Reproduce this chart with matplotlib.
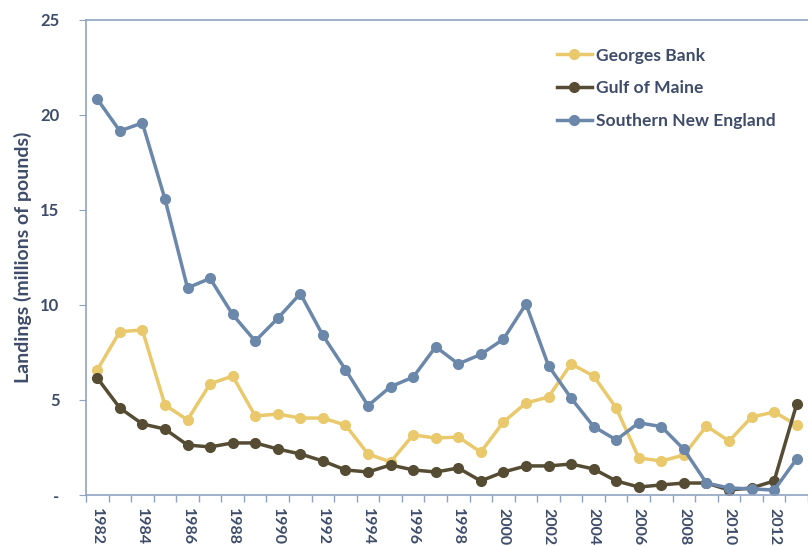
import matplotlib
matplotlib.use("Agg")
import matplotlib.pyplot as plt
import numpy as np

years = list(range(1982, 2014))
georges_bank = [6.58, 8.6, 8.68, 4.74, 3.95, 5.85, 6.26, 4.16, 4.26, 4.05, 4.05, 3.68,
                2.16, 1.74, 3.16, 3.0, 3.05, 2.26, 3.84, 4.84, 5.16, 6.9, 6.26, 4.58,
                1.95, 1.79, 2.1, 3.63, 2.84, 4.1, 4.37, 3.68]
gulf_of_maine = [6.16, 4.58, 3.74, 3.47, 2.63, 2.53, 2.74, 2.74, 2.42, 2.16, 1.79, 1.32,
                 1.21, 1.58, 1.32, 1.21, 1.42, 0.74, 1.21, 1.53, 1.53, 1.63, 1.37, 0.74,
                 0.42, 0.53, 0.63, 0.63, 0.26, 0.37, 0.74, 4.79]
southern_new_england = [20.84, 19.16, 19.58, 15.58, 10.9, 11.4, 9.5, 8.1, 9.3, 10.6, 8.4, 6.6,
                        4.7, 5.7, 6.2, 7.8, 6.9, 7.4, 8.2, 10.05, 6.8, 5.1, 3.6, 2.9,
                        3.8, 3.6, 2.4, 0.63, 0.37, 0.32, 0.26, 1.9]
y_ticks = [0, 5, 10, 15, 20, 25]
y_tick_labels = ["-", "5", "10", "15", "20", "25"]

text_color = "#3E4C6A"
spine_color = "#8FA3C0"
colors = {"Georges Bank": "#E9C96C",
          "Gulf of Maine": "#554C33",
          "Southern New England": "#6B87AA"}

plt.rcParams["font.family"] = ["Lato", "DejaVu Sans"]

fig = plt.figure(figsize=(8.08, 5.46), dpi=100)
ax = fig.add_axes([0.1064, 0.0934, 0.8936, 0.8700])

x = np.arange(len(years))
for name, vals in [("Georges Bank", georges_bank),
                   ("Gulf of Maine", gulf_of_maine),
                   ("Southern New England", southern_new_england)]:
    ax.plot(x, vals, color=colors[name], lw=2.5, marker="o", ms=7,
            label=name, solid_joinstyle="round")

ax.set_xlim(-0.5, len(years) - 0.5)
ax.set_ylim(0, 25)

ax.set_yticks(y_ticks)
ax.set_yticklabels(y_tick_labels, fontsize=12, fontweight="bold", color=text_color)
ax.tick_params(axis="y", length=5, color=spine_color, pad=14)

even = [i for i, y in enumerate(years) if y % 2 == 0]
ax.set_xticks(even)
ax.set_xticklabels([str(years[i]) for i in even], rotation=-90, fontsize=11.5,
                   fontweight="bold", color=text_color)
ax.tick_params(axis="x", which="major", length=0, pad=9)
ax.set_xticks(np.arange(-0.5, len(years)), minor=True)
ax.tick_params(axis="x", which="minor", length=5, color=spine_color, width=1)

for side in ["left", "bottom", "top"]:
    ax.spines[side].set_color(spine_color)
    ax.spines[side].set_linewidth(1.2)
ax.spines["right"].set_visible(False)

ax.set_ylabel("Landings (millions of pounds)", fontsize=14, fontweight="bold",
              color=text_color, labelpad=6)

leg = ax.legend(loc="upper right", bbox_to_anchor=(0.977, 0.975), frameon=False,
                handlelength=2.0, handletextpad=0.25, labelspacing=0.96,
                prop={"weight": "bold", "size": 12.6})
for t in leg.get_texts():
    t.set_color(text_color)

fig.savefig("out.png", dpi=100)
